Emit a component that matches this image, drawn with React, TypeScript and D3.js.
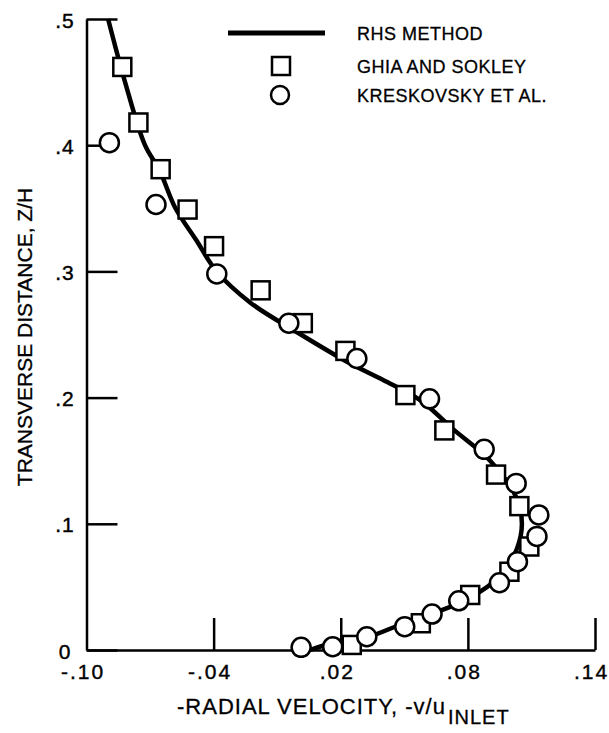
import { useEffect, useRef } from "react"
import * as d3 from "d3"

// RHS method curve (x = -v/u_inlet, y = z/H)
const rhsX = [-0.0898, -0.0818, -0.0724, -0.0655, -0.058, -0.0483, -0.0386, -0.0225, -0.0008, 0.0245, 0.040, 0.0575, 0.073, 0.0905, 0.1031, 0.1055, 0.1031, 0.096, 0.0795, 0.048, 0.0323, 0.015, 0.0055]
const rhsY = [0.5, 0.45, 0.4, 0.38, 0.35, 0.325, 0.3, 0.275, 0.252, 0.227, 0.214, 0.198, 0.175, 0.15, 0.12, 0.1, 0.08, 0.06, 0.04, 0.02, 0.01, 0.005, 0.0]

// Ghia and Sokley (squares)
const ghiaX = [-0.0831, -0.0755, -0.065, -0.0523, -0.0398, -0.0178, 0.0021, 0.0222, 0.0505, 0.0689, 0.0933, 0.1043, 0.109, 0.0996, 0.0811, 0.0578, 0.0252]
const ghiaY = [0.462, 0.418, 0.381, 0.349, 0.32, 0.285, 0.259, 0.237, 0.202, 0.174, 0.139, 0.114, 0.082, 0.062, 0.0436, 0.0212, 0.004]

// Kreskovsky et al. (circles)
const kresX = [-0.0892, -0.0672, -0.0385, -0.0045, 0.0276, 0.0619, 0.0877, 0.1028, 0.1135, 0.1126, 0.1034, 0.0949, 0.0757, 0.0631, 0.0502, 0.0323, 0.0162, 0.0013]
const kresY = [0.402, 0.353, 0.298, 0.259, 0.231, 0.199, 0.159, 0.132, 0.107, 0.09, 0.07, 0.0533, 0.039, 0.0285, 0.0185, 0.0105, 0.0026, 0.0021]

const xTicks = [-0.1, -0.04, 0.02, 0.08, 0.14]
const xTickLabels = ["-.10", "-.04", ".02", ".08", ".14"]
const yTicks = [0, 0.1, 0.2, 0.3, 0.4, 0.5]
const yTickLabels = ["0", ".1", ".2", ".3", ".4", ".5"]

const legendLabels = ["RHS METHOD", "GHIA AND SOKLEY", "KRESKOVSKY ET AL."]

const W = 609
const H = 733
const FONT = "'Liberation Sans', Arial, sans-serif"

export default function App() {
  const svgRef = useRef<SVGSVGElement>(null)

  useEffect(() => {
    if (!svgRef.current) return
    const svg = d3.select(svgRef.current)
    svg.selectAll("*").remove()

    const x = d3.scaleLinear().domain([-0.1, 0.14]).range([86.5, 595])
    const y = d3.scaleLinear().domain([0, 0.5]).range([650, 19])

    // axes
    const g = svg.append("g")
    const yAxis = g
      .append("g")
      .attr("transform", `translate(${x(-0.1)},0)`)
      .call(
        d3
          .axisLeft(y)
          .tickValues(yTicks)
          .tickSizeInner(-31)
          .tickSizeOuter(0)
          .tickFormat((d, i) => yTickLabels[i]),
      )
    yAxis.select(".domain").attr("stroke-width", 2.5)
    yAxis.selectAll("line").attr("stroke-width", 2.5)
    yAxis
      .selectAll("text")
      .attr("font-size", 21)
      .attr("font-family", FONT)
      .attr("letter-spacing", 1)
      .attr("text-anchor", "middle")
      .attr("x", 65 - x(-0.1))
      .attr("dy", 8)
      .attr("stroke", "#000")
      .attr("stroke-width", 0.4)

    const xAxis = g
      .append("g")
      .attr("transform", `translate(0,${y(0)})`)
      .call(
        d3
          .axisBottom(x)
          .tickValues(xTicks)
          .tickSizeInner(-32)
          .tickSizeOuter(0)
          .tickFormat((d, i) => xTickLabels[i]),
      )
    xAxis.select(".domain").attr("stroke-width", 2.5)
    xAxis.selectAll("line").attr("stroke-width", 2.5)
    xAxis.selectAll(".tick").filter((d) => d === -0.1).select("line").remove()
    xAxis
      .selectAll("text")
      .attr("font-size", 21)
      .attr("font-family", FONT)
      .attr("letter-spacing", 2)
      .attr("y", 29)
      .attr("dy", 0)
      .attr("dx", -4)
      .attr("stroke", "#000")
      .attr("stroke-width", 0.4)

    // RHS curve
    const pts = rhsX.map((v, i) => [x(v), y(rhsY[i])] as [number, number])
    svg
      .append("path")
      .attr("d", d3.line().curve(d3.curveCatmullRom.alpha(0.5))(pts))
      .attr("fill", "none")
      .attr("stroke", "#000")
      .attr("stroke-width", 4.5)

    const sq = 18
    svg
      .append("g")
      .selectAll("rect")
      .data(ghiaX.map((v, i) => ({ v, z: ghiaY[i] })))
      .join("rect")
      .attr("x", (d) => x(d.v) - sq / 2)
      .attr("y", (d) => y(d.z) - sq / 2)
      .attr("width", sq)
      .attr("height", sq)
      .attr("fill", "#fff")
      .attr("stroke", "#000")
      .attr("stroke-width", 2.5)

    svg
      .append("g")
      .selectAll("circle")
      .data(kresX.map((v, i) => ({ v, z: kresY[i] })))
      .join("circle")
      .attr("cx", (d) => x(d.v))
      .attr("cy", (d) => y(d.z))
      .attr("r", 9.5)
      .attr("fill", "#fff")
      .attr("stroke", "#000")
      .attr("stroke-width", 2.5)

    // legend
    const lg = svg.append("g")
    lg.append("line").attr("x1", 228).attr("x2", 325).attr("y1", 33).attr("y2", 33).attr("stroke", "#000").attr("stroke-width", 5)
    lg.append("rect").attr("x", 272).attr("y", 57).attr("width", sq).attr("height", sq).attr("fill", "#fff").attr("stroke", "#000").attr("stroke-width", 2.5)
    lg.append("circle").attr("cx", 280).attr("cy", 95).attr("r", 9).attr("fill", "#fff").attr("stroke", "#000").attr("stroke-width", 2.5)
    lg.selectAll("text")
      .data(legendLabels)
      .join("text")
      .attr("x", 357)
      .attr("y", (d, i) => [33, 66, 95][i] + 7)
      .attr("font-size", 18)
      .attr("font-family", FONT)
      .attr("letter-spacing", 0.5)
      .attr("stroke", "#000")
      .attr("stroke-width", 0.3)
      .text((d) => d)

    // axis titles
    svg
      .append("text")
      .attr("transform", `translate(32,337) rotate(-90)`)
      .attr("text-anchor", "middle")
      .attr("font-size", 21)
      .attr("font-family", FONT)
      .attr("stroke", "#000")
      .attr("stroke-width", 0.3)
      .text("TRANSVERSE DISTANCE, Z/H")

    const xt = svg
      .append("text")
      .attr("x", 177)
      .attr("y", 714)
      .attr("font-size", 22)
      .attr("font-family", FONT)
      .attr("letter-spacing", 1)
      .attr("stroke", "#000")
      .attr("stroke-width", 0.3)
    xt.append("tspan").text("-RADIAL VELOCITY, -v/u")
    xt.append("tspan").attr("dy", 10).attr("font-size", 20).attr("dx", 2).text("INLET")
  }, [])

  return (
    <svg
      ref={svgRef}
      width={W}
      height={H}
      style={{ position: "absolute", left: 0, top: 0, background: "#fff" }}
    />
  )
}
